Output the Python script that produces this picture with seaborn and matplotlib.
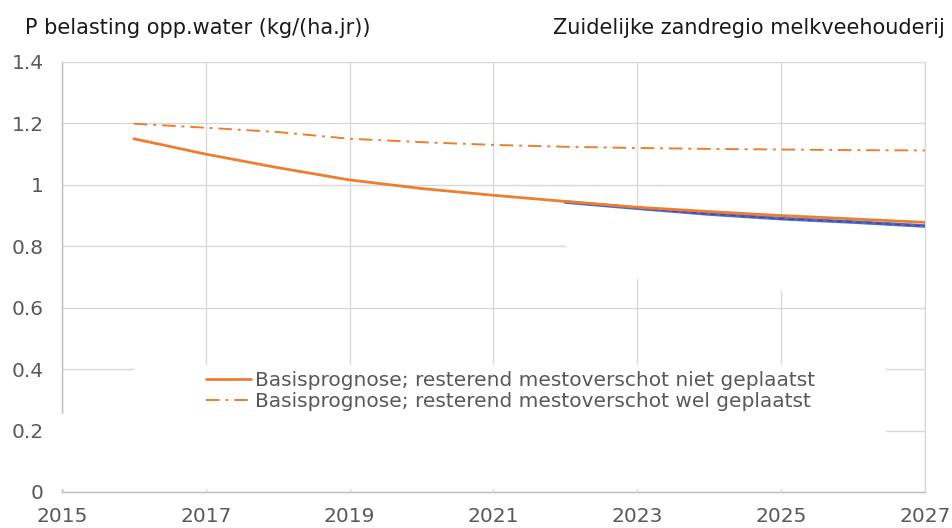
import pandas as pd
import seaborn as sns
import matplotlib.pyplot as plt
from matplotlib.patches import Rectangle

# values
years = [2016, 2017, 2018, 2019, 2020, 2021, 2022, 2023, 2024, 2025, 2026, 2027]
niet_geplaatst = [1.150, 1.100, 1.056, 1.016, 0.988, 0.966, 0.946, 0.927, 0.913, 0.900, 0.889, 0.878]
wel_geplaatst = [1.199, 1.186, 1.172, 1.150, 1.139, 1.130, 1.124, 1.120, 1.117, 1.115, 1.113, 1.112]

years_alt = [2022, 2023, 2024, 2025, 2026, 2027]
alternatief = [0.944, 0.924, 0.905, 0.890, 0.879, 0.866]
band_low = [0.71, 0.694, 0.676, 0.658, 0.638, 0.619]

label_niet = "Basisprognose; resterend mestoverschot niet geplaatst"
label_wel = "Basisprognose; resterend mestoverschot wel geplaatst"
y_ticks = [0, 0.2, 0.4, 0.6, 0.8, 1.0, 1.2, 1.4]
y_tick_labels = ["0", "0.2", "0.4", "0.6", "0.8", "1", "1.2", "1.4"]
x_ticks = list(range(2015, 2028, 2))

ORANGE = "#ED7D31"
GRID = "#D9D9D9"
TEXT = "#595959"

sns.set_style("white")
plt.rcParams['font.family'] = ['DejaVu Sans']

df = pd.DataFrame({"jaar": years, "niet": niet_geplaatst, "wel": wel_geplaatst})
df_alt = pd.DataFrame({"jaar": years_alt, "alt": alternatief, "low": band_low})

fig = plt.figure(figsize=(9.52, 5.28), dpi=100)
ax = fig.add_axes([0.0651, 0.0682, 0.9065, 0.8144])

# hidden white band below the alternative series (covers the grid)
ax.fill_between(df_alt["jaar"], df_alt["low"], df_alt["alt"], color="white", zorder=1, lw=0)

sns.lineplot(data=df_alt, x="jaar", y="alt", ax=ax, color="#4472C4", lw=2.6, zorder=3, legend=False)
sns.lineplot(data=df_alt, x="jaar", y="alt", ax=ax, color="#7030A0", lw=1.0, ls=(0, (4, 3)), zorder=3.1, legend=False)
sns.lineplot(data=df, x="jaar", y="niet", ax=ax, color=ORANGE, lw=2.0, zorder=4, label=label_niet)
sns.lineplot(data=df, x="jaar", y="wel", ax=ax, color=ORANGE, lw=1.4, ls=(0, (7, 3, 1.5, 3)), zorder=4, label=label_wel)

ax.set_xlim(2015, 2027)
ax.set_ylim(0, 1.4)
ax.set_xticks(x_ticks)
ax.set_xticklabels([str(x) for x in x_ticks])
ax.set_yticks(y_ticks)
ax.set_yticklabels(y_tick_labels)
ax.set_xlabel("")
ax.set_ylabel("")
ax.grid(True, color=GRID, lw=1.0)
ax.set_axisbelow(True)
ax.tick_params(axis="y", length=0, pad=13, labelsize=14.5, labelcolor=TEXT)
ax.tick_params(axis="x", direction="in", length=4, color="#BFBFBF", pad=11, labelsize=14.5, labelcolor=TEXT)

ax.spines["top"].set_visible(False)
ax.spines["right"].set_color(GRID)
ax.spines["right"].set_linewidth(1.0)
for side in ["left", "bottom"]:
    ax.spines[side].set_color("#BFBFBF")
    ax.spines[side].set_linewidth(1.0)

# white legend area that hides part of the grid
ax.add_patch(Rectangle((0.083, 0.006), 0.872, 0.29, transform=ax.transAxes,
                       facecolor="white", edgecolor="none", zorder=2.6, clip_on=False))
ax.add_patch(Rectangle((-0.01, 0.006), 0.965, 0.175, transform=ax.transAxes,
                       facecolor="white", edgecolor="none", zorder=2.6, clip_on=False))

leg = ax.legend(loc="center", bbox_to_anchor=(0.52, 0.235), frameon=False, fontsize=14.5,
                handlelength=2.2, handletextpad=0.2, labelspacing=0.1, borderpad=0)
for t in leg.get_texts():
    t.set_color(TEXT)
leg.set_zorder(5)

fig.text(0.026, 0.947, "P belasting opp.water (kg/(ha.jr))", fontsize=15, color="#1a1a1a", va="center", ha="left")
fig.text(0.993, 0.947, "Zuidelijke zandregio melkveehouderij", fontsize=15, color="#1a1a1a", va="center", ha="right")

fig.savefig("out.png", dpi=100)
